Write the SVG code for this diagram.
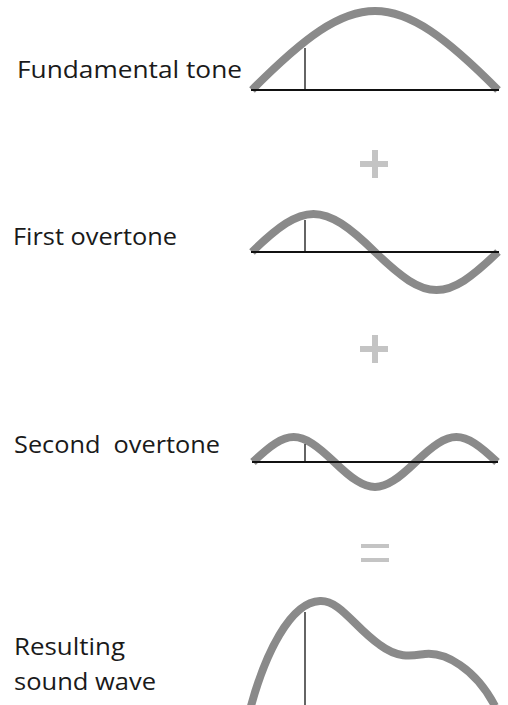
<svg xmlns="http://www.w3.org/2000/svg" width="508" height="705" viewBox="0 0 508 705">
<style>
.lbl{font-family:"Open Sans","Noto Sans","Liberation Sans",sans-serif;font-size:23.5px;fill:#1a1a1a;white-space:pre}
.wave{fill:none;stroke:#8a8a8a;stroke-width:8}
.axis{stroke:#111;stroke-width:2}
.tick{stroke:#111;stroke-width:1.3}
.op{fill:#c4c4c4}
</style>
<rect width="508" height="705" fill="#fff"/>
<g id="fundamental">
<text class="lbl" x="17" y="78" textLength="225" lengthAdjust="spacingAndGlyphs">Fundamental tone</text>
<path class="wave" d="M252,90 C356.4,-15.3 393.6,-15.3 498,90"/>
<line class="axis" x1="251" y1="90" x2="499" y2="90"/>
<line class="tick" x1="305" y1="48" x2="305" y2="90"/>
</g>
<g id="plus1">
<rect class="op" x="372" y="150" width="6" height="28"/>
<rect class="op" x="360" y="161" width="28" height="6"/>
</g>
<g id="first">
<text class="lbl" x="13" y="245" textLength="164" lengthAdjust="spacingAndGlyphs">First overtone</text>
<path class="wave" d="M252,252 C304.2,201.3 322.8,201.3 375,252 C427.2,302.7 445.8,302.7 498,252"/>
<line class="axis" x1="251" y1="252" x2="499" y2="252"/>
<line class="tick" x1="305" y1="220" x2="305" y2="252"/>
</g>
<g id="plus2">
<rect class="op" x="372" y="335" width="6" height="28"/>
<rect class="op" x="360" y="346" width="28" height="6"/>
</g>
<g id="second">
<text class="lbl" x="14" y="453" textLength="206" lengthAdjust="spacingAndGlyphs">Second  overtone</text>
<path class="wave" d="M253,462 C287.5,428.7 299.8,428.7 334.3,462 C368.8,495.3 381.2,495.3 415.7,462 C450.2,428.7 462.5,428.7 497,462"/>
<line class="axis" x1="252" y1="462" x2="498" y2="462"/>
<line class="tick" x1="305" y1="444" x2="305" y2="462"/>
</g>
<g id="equals">
<rect class="op" x="361" y="544" width="28" height="4"/>
<rect class="op" x="361" y="558" width="28" height="4"/>
</g>
<g id="result">
<text class="lbl" x="14" y="655" textLength="111" lengthAdjust="spacingAndGlyphs">Resulting</text>
<text class="lbl" x="14" y="690" textLength="142" lengthAdjust="spacingAndGlyphs">sound wave</text>
<path class="wave" d="M251,706 C265,655 290,602 320,601 C340,600 355,628 380,645 C400,660 415,655 425,654 C445,652 475,668 495,706"/>
<line class="tick" x1="305" y1="612" x2="305" y2="705"/>
</g>
</svg>
